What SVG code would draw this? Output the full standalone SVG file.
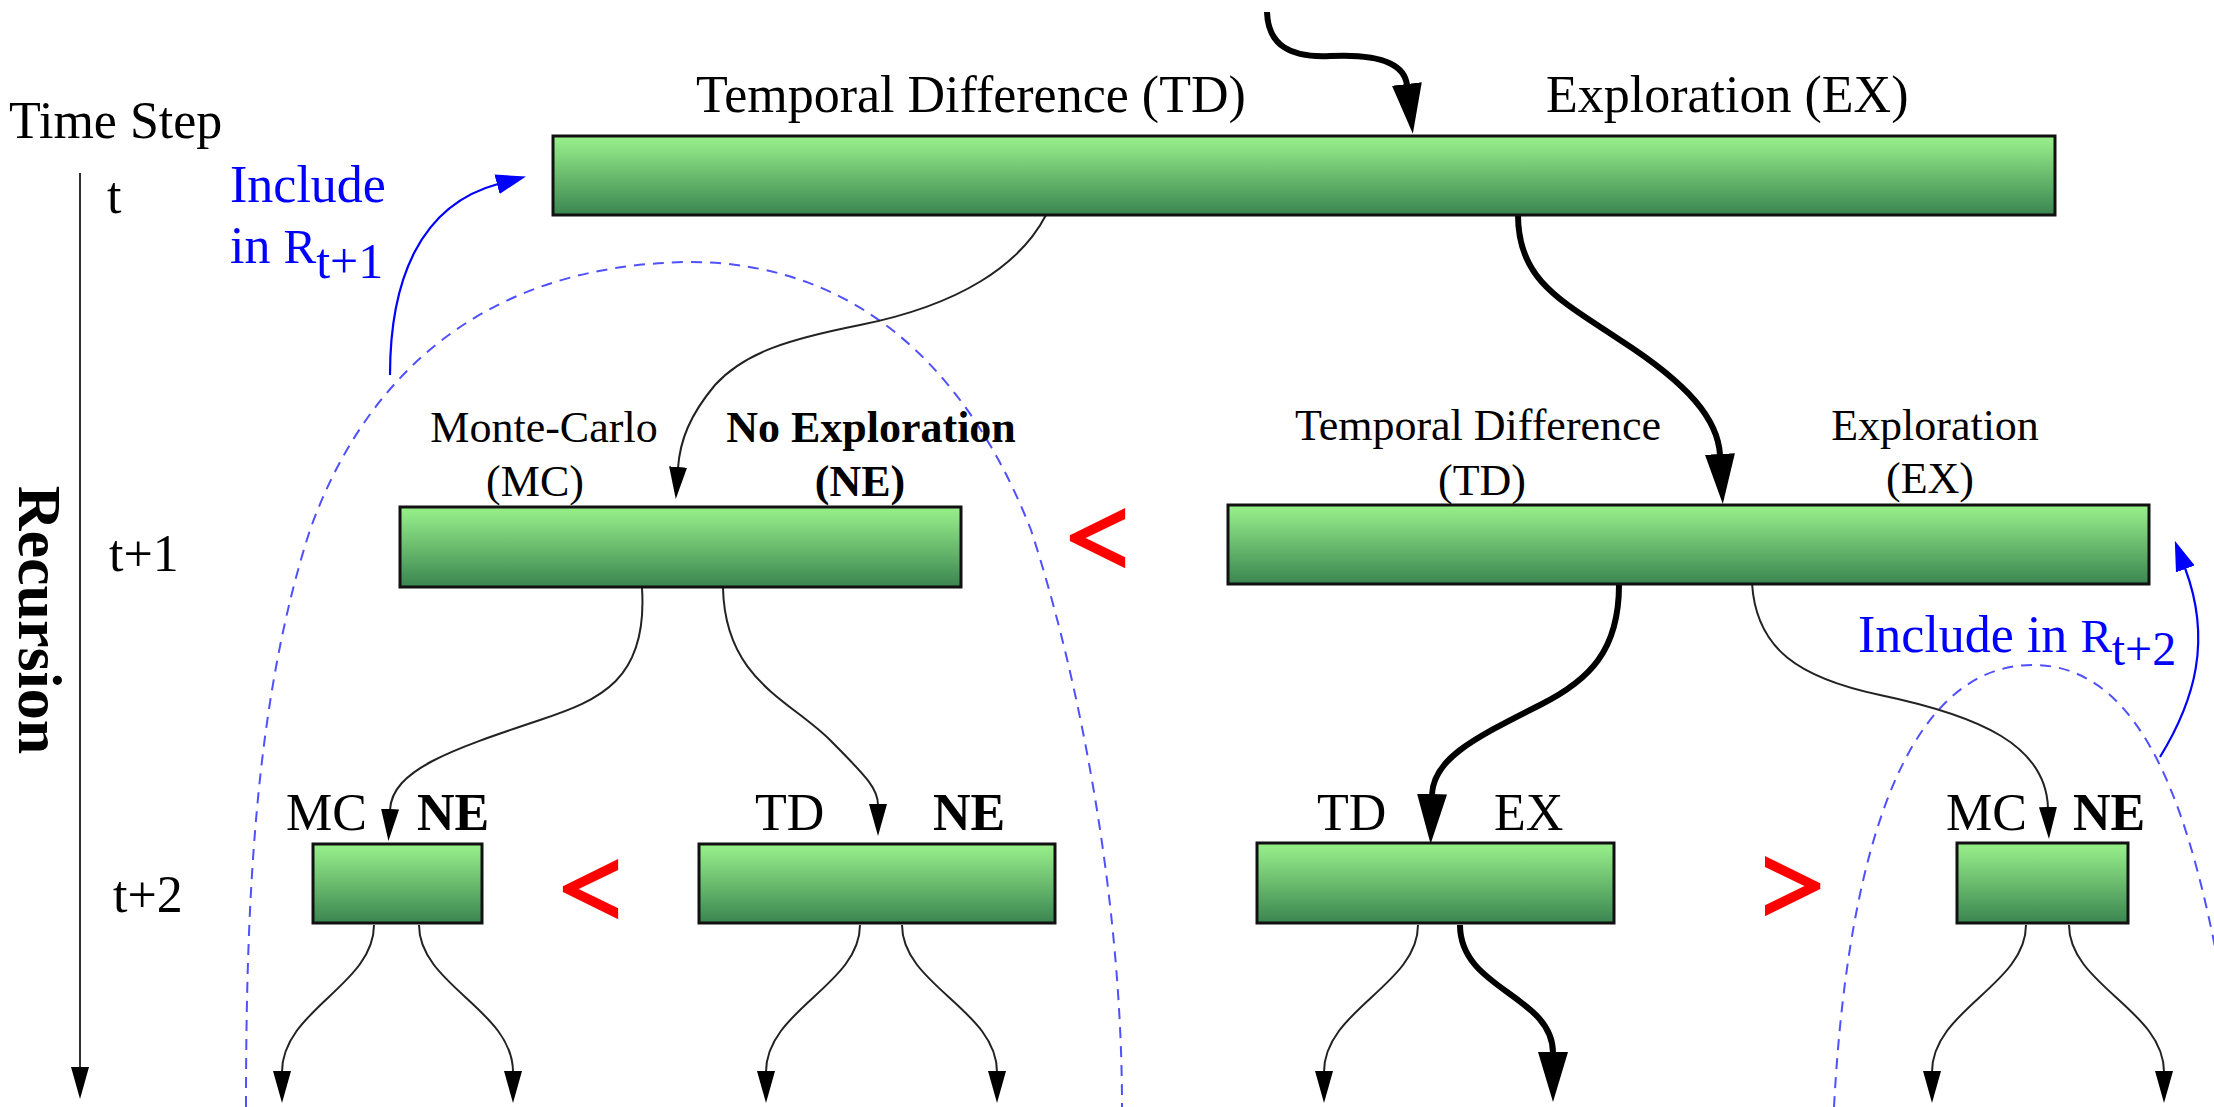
<svg xmlns="http://www.w3.org/2000/svg" width="2214" height="1107" viewBox="0 0 2214 1107">
<defs>
<linearGradient id="g" x1="0" y1="0" x2="0" y2="1">
<stop offset="0" stop-color="#96ef88"/>
<stop offset="0.12" stop-color="#8fe585"/>
<stop offset="1" stop-color="#3a8550"/>
</linearGradient>
<marker id="ah" markerUnits="userSpaceOnUse" viewBox="0 -10 34 20" markerWidth="34" markerHeight="20" refX="1" refY="0" orient="auto"><path d="M0,-9 L32,0 L0,9 z" fill="#000"/></marker>
<marker id="ahb" markerUnits="userSpaceOnUse" viewBox="0 -16 52 32" markerWidth="52" markerHeight="32" refX="1" refY="0" orient="auto"><path d="M0,-15 L50,0 L0,15 z" fill="#000"/></marker>
<marker id="ahblue" markerUnits="userSpaceOnUse" viewBox="0 -11 32 22" markerWidth="32" markerHeight="22" refX="1" refY="0" orient="auto"><path d="M0,-10 L30,0 L0,10 z" fill="#0000ff"/></marker>
<style>
.box{fill:url(#g);stroke:#111;stroke-width:3}
.t{font-family:"Liberation Serif","Times New Roman",serif;fill:#000}
.l1{font-size:52px}
.l2{font-size:44px}
.b{font-weight:bold}
.blue{fill:#0000ff}
.red{font-family:"Liberation Serif",serif;font-size:108px;fill:#ff0000;stroke:#ff0000;stroke-width:5}
.thin{fill:none;stroke:#222;stroke-width:2;marker-end:url(#ah)}
.thick{fill:none;stroke:#000;stroke-width:6;marker-end:url(#ahb)}
.barrow{fill:none;stroke:#0000ff;stroke-width:2.2;marker-end:url(#ahblue)}
.dash{fill:none;stroke:#5050ff;stroke-width:2;stroke-dasharray:11 8}
</style>
</defs>
<rect width="2214" height="1107" fill="#fff"/>

<g id="time-axis">
<text class="t l1" x="9" y="138">Time Step</text>
<text class="t l1" x="107" y="213">t</text>
<text class="t l1" x="109" y="571">t+1</text>
<text class="t l1" x="113" y="912">t+2</text>
<text class="t b" font-size="62" transform="translate(19,620) rotate(90)" text-anchor="middle">Recursion</text>
</g>

<g id="dashed-regions">
<path class="dash" d="M246,1107 C246,900 255,700 310,530 C360,390 470,265 689,262 C880,262 980,400 1031,530 C1080,680 1122,900 1122,1107"/>
<path class="dash" d="M1834,1107 C1845,900 1890,665 2033,665 C2150,665 2195,830 2225,1000"/>
</g>

<g id="connectors">
<path d="M80,173 L80,1068" fill="none" stroke="#333" stroke-width="2" marker-end="url(#ah)"/>
<path class="thick" d="M1267,12 C1268,45 1290,58 1330,56 C1370,54 1404,60 1407,85"/>
<path class="thin" d="M1046,215 C1020,265 960,305 860,325 C790,339 745,352 715,385 C690,415 680,440 678,468"/>
<path class="thick" d="M1518,215 C1518,280 1560,300 1620,340 C1690,385 1718,420 1720,455"/>
<path class="thin" d="M642,588 C648,680 600,700 540,720 C450,750 392,770 390,810"/>
<path class="thin" d="M723,588 C725,680 790,700 830,740 C870,780 878,790 878,805"/>
<path class="thick" d="M1619,585 C1619,650 1590,680 1540,705 C1470,740 1433,760 1432,795"/>
<path class="thin" d="M1752,583 C1756,650 1800,678 1880,695 C1980,716 2046,745 2048,808"/>
<path class="thin" d="M374,925 C374,985 282,1010 282,1072"/>
<path class="thin" d="M419,925 C419,985 513,1010 513,1072"/>
<path class="thin" d="M860,925 C860,985 766,1010 766,1072"/>
<path class="thin" d="M902,925 C902,985 997,1010 997,1072"/>
<path class="thin" d="M1418,925 C1418,985 1324,1010 1324,1072"/>
<path class="thick" d="M1460,925 C1460,990 1553,995 1553,1053"/>
<path class="thin" d="M2026,925 C2026,985 1932,1010 1932,1072"/>
<path class="thin" d="M2069,925 C2069,985 2164,1010 2164,1072"/>
<path class="barrow" d="M390,375 C390,280 420,205 498,184"/>
<path class="barrow" d="M2160,757 C2195,700 2212,640 2185,568"/>
</g>

<g id="node-t">
<rect class="box" x="553" y="136" width="1502" height="79"/>
<text class="t l1" x="696" y="112">Temporal Difference (TD)</text>
<text class="t l1" x="1546" y="112">Exploration (EX)</text>
</g>

<g id="include-t1">
<text class="t l1 blue" x="230" y="202">Include</text>
<text class="t l1 blue" x="230" y="263">in <tspan font-size="49">R</tspan><tspan font-size="50" dy="15">t+1</tspan></text>
</g>

<g id="node-t1-mc-ne">
<rect class="box" x="400" y="507" width="561" height="80"/>
<text class="t l2" x="544" y="442" text-anchor="middle">Monte-Carlo</text>
<text class="t l2" x="535" y="496" text-anchor="middle">(MC)</text>
<text class="t l2 b" x="871" y="442" text-anchor="middle">No Exploration</text>
<text class="t l2 b" x="860" y="496" text-anchor="middle">(NE)</text>
</g>

<g id="node-t1-td-ex">
<rect class="box" x="1228" y="505" width="921" height="79"/>
<text class="t l2" x="1478" y="440" text-anchor="middle">Temporal Difference</text>
<text class="t l2" x="1482" y="495" text-anchor="middle">(TD)</text>
<text class="t l2" x="1935" y="440" text-anchor="middle">Exploration</text>
<text class="t l2" x="1930" y="493" text-anchor="middle">(EX)</text>
</g>

<g id="include-t2">
<text class="t l1 blue" x="1858" y="652">Include in <tspan font-size="47">R</tspan><tspan font-size="48" dy="13">t+2</tspan></text>
</g>

<g id="node-t2-mc-ne-a">
<rect class="box" x="313" y="844" width="169" height="79"/>
<text class="t l1" x="286" y="830">MC</text>
<text class="t l1 b" x="417" y="830">NE</text>
</g>

<g id="node-t2-td-ne">
<rect class="box" x="699" y="844" width="356" height="79"/>
<text class="t l1" x="755" y="830">TD</text>
<text class="t l1 b" x="933" y="830">NE</text>
</g>

<g id="node-t2-td-ex">
<rect class="box" x="1257" y="843" width="357" height="80"/>
<text class="t l1" x="1317" y="830">TD</text>
<text class="t l1" x="1494" y="830">EX</text>
</g>

<g id="node-t2-mc-ne-b">
<rect class="box" x="1957" y="843" width="171" height="80"/>
<text class="t l1" x="1946" y="830">MC</text>
<text class="t l1 b" x="2073" y="830">NE</text>
</g>

<g id="comparisons">
<text class="red" x="1067" y="574">&lt;</text>
<text class="red" x="560" y="925">&lt;</text>
<text class="red" x="1762" y="922">&gt;</text>
</g>
</svg>
